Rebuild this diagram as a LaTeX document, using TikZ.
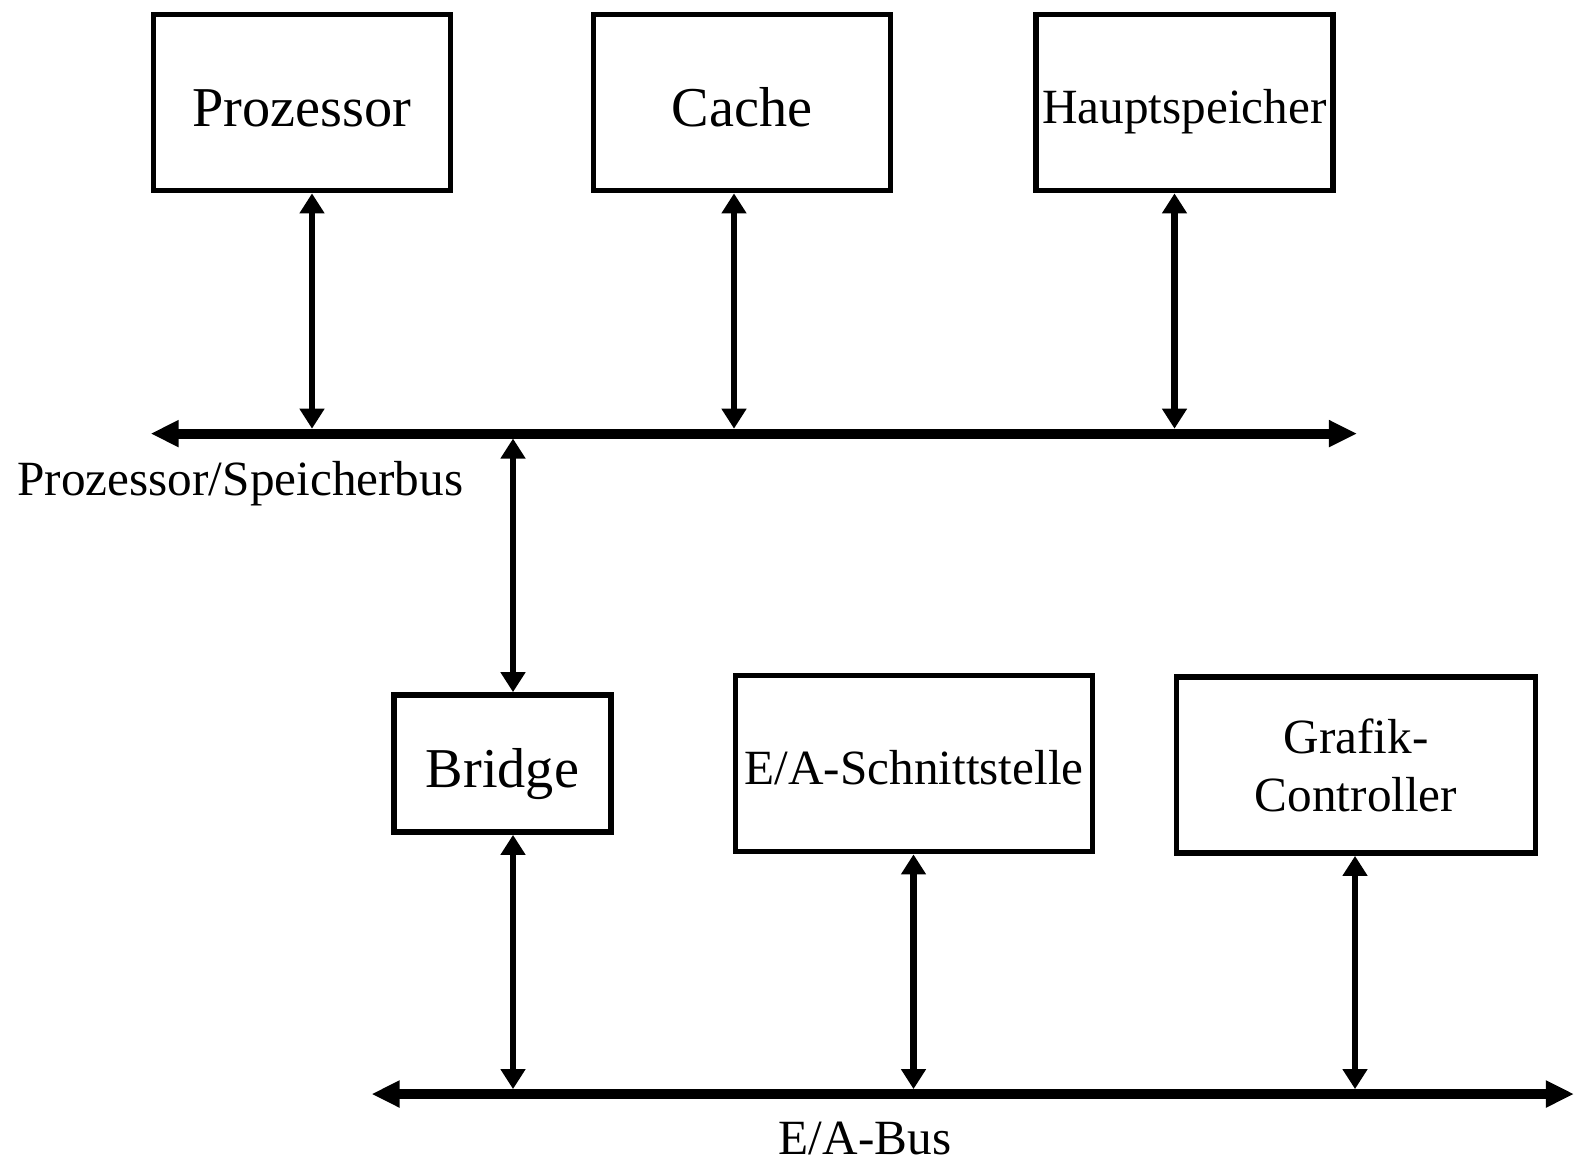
\documentclass[tikz,border=0pt]{standalone}
\usepackage{fontspec}
\setmainfont{Liberation Serif}
\usetikzlibrary{arrows.meta, calc, positioning}

\begin{document}
\begin{tikzpicture}[
x=0.01cm,
y=-0.01cm,
box/.style={
	draw,
	rectangle,
	line width=1.6pt,
	minimum width=2.97cm,
	minimum height=1.76cm,
	inner sep=0mm,
	align=center,
	font=\fontsize{16}{19}\selectfont},
boxsmall/.style={
	box,
	font=\fontsize{14}{16.5}\selectfont},
oneline/.style={
	text height=13.5pt,
	text depth=0pt},
onelinesmall/.style={
	text height=11.8pt,
	text depth=0pt},
bus/.style={
	<->,
	draw,
	line width=2.8pt,
	>={Triangle[length=8pt, width=7.2pt]}},
link/.style={
	<->,
	draw,
	line width=1.8pt,
	>={Triangle[length=5.7pt, width=6.8pt]}},
buslabel/.style={
	anchor=base,
	inner sep=0mm,
	font=\fontsize{14}{16.5}\selectfont}]

\useasboundingbox (0,0) rectangle (1574,1160);

%Top row
\node[box, oneline] (proz) at (302,102.5) {Prozessor};
\node[box, oneline] (cache) at (742,102.5) {Cache};
\node[boxsmall, onelinesmall] (haupt) at (1184.5,102.5) {Hauptspeicher};

%Bottom row
\node[box, oneline, minimum width=2.17cm, minimum height=1.37cm] (bridge) at (502.5,763.5) {Bridge};
\node[boxsmall, onelinesmall, minimum width=3.57cm] (ea) at (914,763.5) {E/A-Schnittstelle};
\node[boxsmall, minimum width=3.59cm] (grafik) at (1356,765) {Grafik-\\Controller};

%Buses
\coordinate (pbl) at (150.6,433.6);
\coordinate (pbr) at (1357,433.6);
\path[bus] (pbl) -- (pbr);

\coordinate (ebl) at (371.5,1094);
\coordinate (ebr) at (1574,1094);
\path[bus] (ebl) -- (ebr);

\node[buslabel] (pblabel) at (240.4,495) {Prozessor/Speicherbus};
\node[buslabel] (eblabel) at (865,1154.5) {E/A-Bus};

%Links
\coordinate (lproz) at ([xshift=0.1cm]proz.south);
\coordinate (lcache) at ([xshift=-0.08cm]cache.south);
\coordinate (lhaupt) at ([xshift=-0.1cm]haupt.south);
\coordinate (lbridgeN) at ([xshift=0.105cm]bridge.north);
\coordinate (lbridgeS) at ([xshift=0.105cm]bridge.south);
\coordinate (lea) at ([xshift=-0.005cm]ea.south);
\coordinate (lgrafik) at ([xshift=-0.01cm]grafik.south);

\path[link, shorten >=1.4pt] (lproz) -- (lproz |- pbl);
\path[link, shorten >=1.4pt] (lcache) -- (lcache |- pbl);
\path[link, shorten >=1.4pt] (lhaupt) -- (lhaupt |- pbl);
\path[link, shorten <=1.4pt] (lbridgeN |- pbl) -- (lbridgeN);
\path[link, shorten >=1.4pt] (lbridgeS) -- (lbridgeS |- ebl);
\path[link, shorten >=1.4pt] (lea) -- (lea |- ebl);
\path[link, shorten >=1.4pt] (lgrafik) -- (lgrafik |- ebl);

\end{tikzpicture}
\end{document}
